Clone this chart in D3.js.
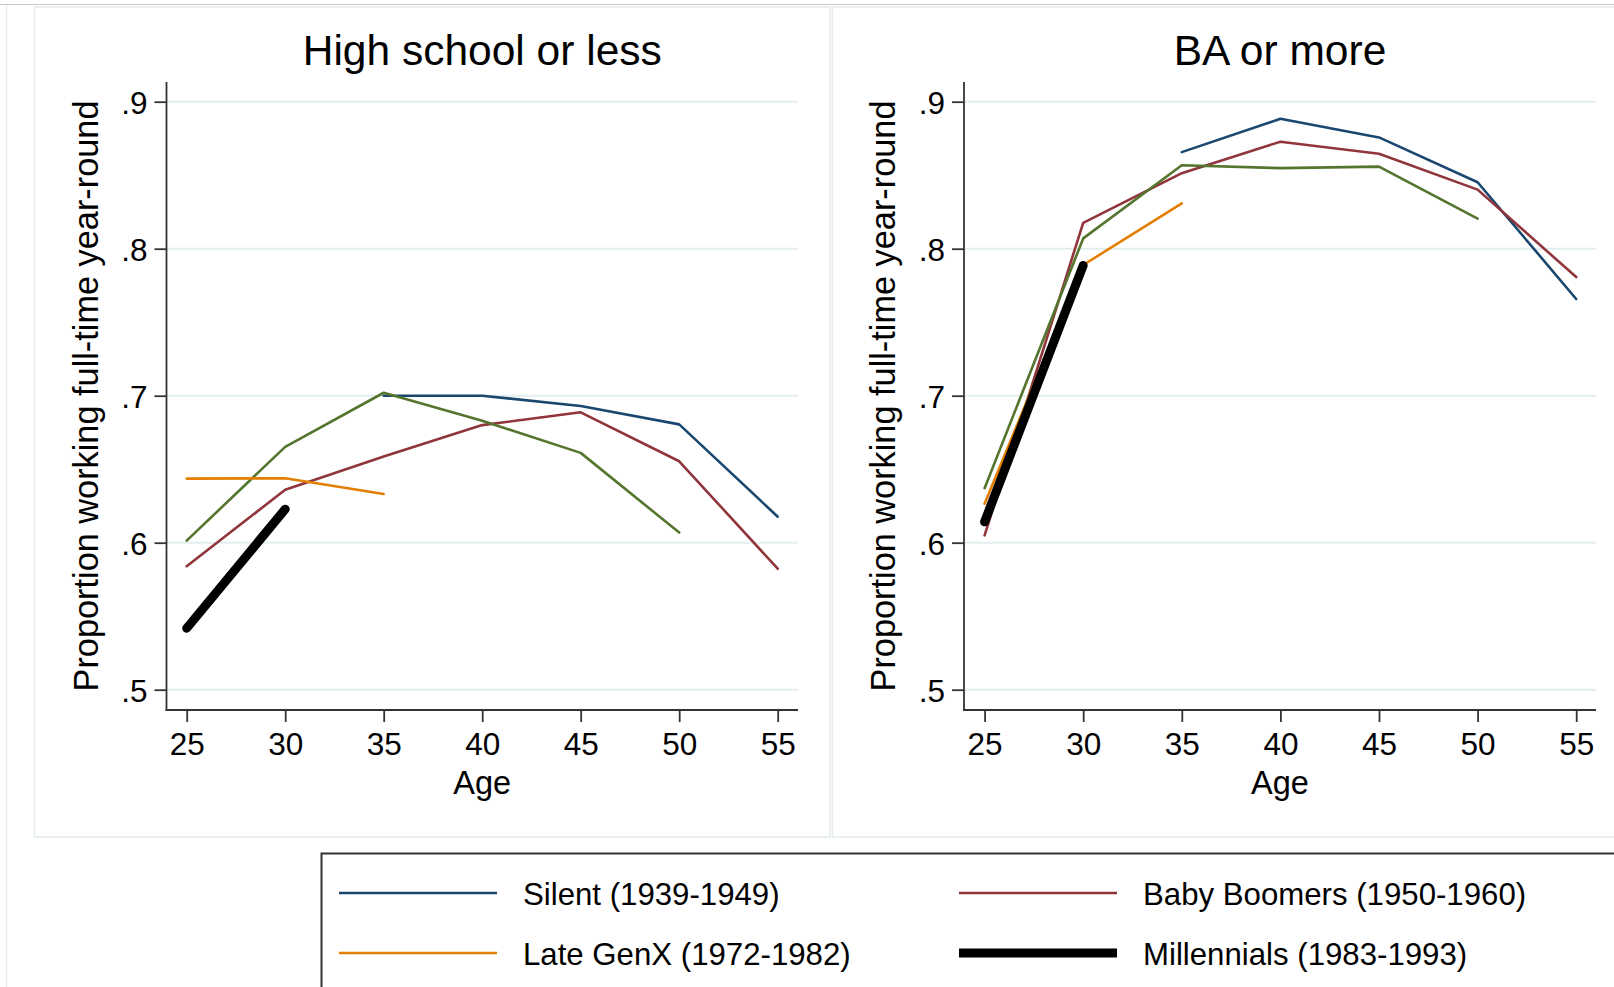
<!DOCTYPE html>
<html>
<head>
<meta charset="utf-8">
<script src="https://cdn.jsdelivr.net/npm/d3@7/dist/d3.min.js"></script>
<style>
  html, body { margin: 0; padding: 0; background: #fff; }
  svg { display: block; }
  text { font-family: "Liberation Sans", Arial, Helvetica, sans-serif; fill: #000; }
</style>
</head>
<body>
<svg id="chart" width="1614" height="987"></svg>
<script>
// ---------------- DATA ----------------
const ages = [25, 30, 35, 40, 45, 50, 55];
const ageTicks = [25, 30, 35, 40, 45, 50, 55];
const propTicks = [0.5, 0.6, 0.7, 0.8, 0.9];
const propTickLabels = [".5", ".6", ".7", ".8", ".9"];
const panelTitles = ["High school or less", "BA or more"];
const xTitle = "Age";
const yTitle = "Proportion working full-time year-round";

// High school or less
const silentHS    = [null,   null,   0.700,  0.700,  0.693,  0.6805, 0.6177];
const boomersHS   = [0.584,  0.636,  0.6586, 0.680,  0.6887, 0.6554, 0.5823];
const earlyGenXHS = [0.6014, 0.6652, 0.702,  0.683,  0.6611, 0.6069, null];
const lateGenXHS  = [0.6436, 0.6438, 0.6331, null,   null,   null,   null];
const millHS      = [0.5418, 0.6228, null,   null,   null,   null,   null];

// BA or more
const silentBA    = [null,   null,   0.8657, 0.8884, 0.8757, 0.8452, 0.7658];
const boomersBA   = [0.6050, 0.8176, 0.8514, 0.8728, 0.8646, 0.8402, 0.7807];
const earlyGenXBA = [0.6371, 0.807,  0.8568, 0.8548, 0.8558, 0.8205, null];
const lateGenXBA  = [0.6265, 0.7889, 0.8309, null,   null,   null,   null];
const millBA      = [0.6142, 0.7886, null,   null,   null,   null,   null];

const seriesNames = ["Silent (1939-1949)", "Baby Boomers (1950-1960)", "Early GenX", "Late GenX (1972-1982)", "Millennials (1983-1993)"];
const seriesColors = ["#1a476f", "#90353b", "#55752f", "#e37e00", "#000000"];
const seriesWidths = [2.6, 2.6, 2.6, 2.6, 9];
const legendOrder = [0, 1, 3, 4]; // visible legend entries (row-wise, 2 columns)

const panelsData = [
  [silentHS, boomersHS, earlyGenXHS, lateGenXHS, millHS],
  [silentBA, boomersBA, earlyGenXBA, lateGenXBA, millBA]
];

// ---------------- LAYOUT ----------------
const svg = d3.select("#chart");
const W = 1614, H = 987;

// outer frame lines
svg.append("line").attr("x1", 0).attr("x2", W).attr("y1", 4.5).attr("y2", 4.5)
  .attr("stroke", "#c9c9c9").attr("stroke-width", 1.2);
svg.append("line").attr("x1", 6.5).attr("x2", 6.5).attr("y1", 5).attr("y2", H)
  .attr("stroke", "#e3ecee").attr("stroke-width", 1.5);

// sub-graph regions
const regions = [
  {x0: 34.5, x1: 830, y0: 7, y1: 837},
  {x0: 832.5, x1: 1700, y0: 7, y1: 837}
];
regions.forEach(r => {
  svg.append("rect").attr("x", r.x0).attr("y", r.y0)
    .attr("width", r.x1 - r.x0).attr("height", r.y1 - r.y0)
    .attr("fill", "#fff").attr("stroke", "#e3ecee").attr("stroke-width", 1.5);
});

const panels = [
  {left: 166.5, right: 798, top: 82, bottom: 710, x25: 186.7, x55: 777.7},
  {left: 964, right: 1596, top: 82, bottom: 710, x25: 984.6, x55: 1576.2}
];
const yPix9 = 101.7, yPix5 = 689.7;

panels.forEach((p, pi) => {
  const g = svg.append("g");
  const x = d3.scaleLinear().domain([ageTicks[0], ageTicks[ageTicks.length - 1]]).range([p.x25, p.x55]);
  const y = d3.scaleLinear().domain([propTicks[0], propTicks[propTicks.length - 1]]).range([yPix5, yPix9]);

  // gridlines
  g.append("g").selectAll("line").data(propTicks).join("line")
    .attr("x1", p.left).attr("x2", p.right)
    .attr("y1", d => y(d)).attr("y2", d => y(d))
    .attr("stroke", "#e4eef0").attr("stroke-width", 2);

  // x axis
  const xAxis = d3.axisBottom(x).tickValues(ageTicks).tickSize(12).tickPadding(8).tickFormat(d3.format("d"));
  const gx = g.append("g").attr("transform", `translate(0,${p.bottom})`).call(xAxis);
  gx.select(".domain").remove();
  gx.selectAll(".tick line").attr("stroke", "#333").attr("stroke-width", 1.8);
  gx.selectAll(".tick text").attr("font-size", 31.5).attr("fill", "#000")
    .attr("font-family", "'Liberation Sans', Arial, sans-serif")
    .attr("dy", null).attr("y", 45);

  // y axis
  const yAxis = d3.axisLeft(y).tickValues(propTicks).tickSize(12)
    .tickFormat((d, i) => propTickLabels[i]);
  const gy = g.append("g").attr("transform", `translate(${p.left},0)`).call(yAxis);
  gy.select(".domain").remove();
  gy.selectAll(".tick line").attr("stroke", "#333").attr("stroke-width", 1.8);
  gy.selectAll(".tick text").attr("font-size", 31.5).attr("fill", "#000")
    .attr("font-family", "'Liberation Sans', Arial, sans-serif")
    .attr("x", -19).attr("dy", "0.36em")
    .attr("text-anchor", "end");

  // axis lines
  g.append("line").attr("x1", p.left).attr("x2", p.left).attr("y1", p.top).attr("y2", p.bottom + 0.9)
    .attr("stroke", "#333").attr("stroke-width", 1.8);
  g.append("line").attr("x1", p.left - 0.9).attr("x2", p.right).attr("y1", p.bottom).attr("y2", p.bottom)
    .attr("stroke", "#333").attr("stroke-width", 1.8);

  // series
  const line = d3.line()
    .defined(d => d[1] !== null)
    .x(d => x(d[0])).y(d => y(d[1]));
  panelsData[pi].forEach((vals, si) => {
    const pts = ages.map((a, i) => [a, vals[i]]);
    g.append("path").datum(pts)
      .attr("d", line)
      .attr("fill", "none")
      .attr("stroke", seriesColors[si])
      .attr("stroke-width", seriesWidths[si])
      .attr("stroke-linejoin", "round")
      .attr("stroke-linecap", "round");
  });

  // panel title
  g.append("text").attr("x", (p.left + p.right) / 2).attr("y", 65)
    .attr("text-anchor", "middle").attr("font-size", 42.5).text(panelTitles[pi]);

  // x title
  g.append("text").attr("x", (p.left + p.right) / 2).attr("y", 794)
    .attr("text-anchor", "middle").attr("font-size", 32.5).text(xTitle);

  // y title
  g.append("text")
    .attr("transform", `translate(${p.left - 69},${(p.top + p.bottom) / 2}) rotate(-90)`)
    .attr("text-anchor", "middle").attr("font-size", 34.3).text(yTitle);
});

// ---------------- LEGEND ----------------
const leg = svg.append("g");
leg.append("rect").attr("x", 321.5).attr("y", 853.5).attr("width", 1400).attr("height", 300)
  .attr("fill", "#fff").attr("stroke", "#333").attr("stroke-width", 2);
const colX = [339, 959];
const rowY = [893, 953];
legendOrder.forEach((si, k) => {
  const cx = colX[k % 2], cy = rowY[Math.floor(k / 2)];
  leg.append("line").attr("x1", cx).attr("x2", cx + 158).attr("y1", cy).attr("y2", cy)
    .attr("stroke", seriesColors[si]).attr("stroke-width", seriesWidths[si]);
  leg.append("text").attr("x", cx + 184).attr("y", cy + 12)
    .attr("font-size", 31.2).text(seriesNames[si]);
});
</script>
</body>
</html>
